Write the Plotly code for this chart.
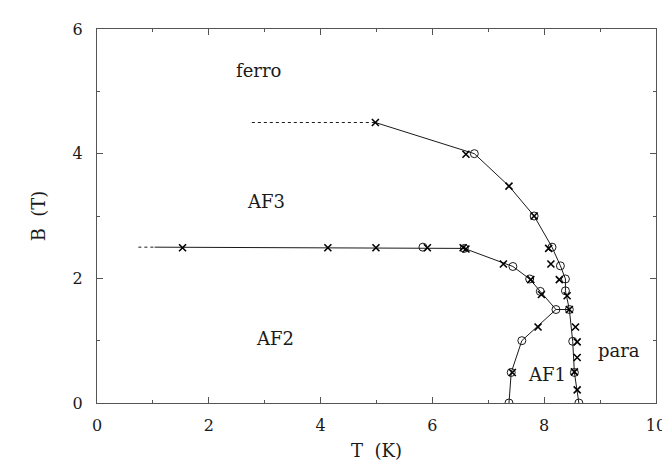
import plotly.graph_objects as go

# ---- data (T in K, B in T) ----
# phase boundary lines
lineA_T = [4.98, 6.75, 7.37, 7.82, 8.14, 8.29, 8.38, 8.38, 8.45, 8.51, 8.54, 8.62]
lineA_B = [4.50, 4.00, 3.48, 3.00, 2.50, 2.20, 1.99, 1.80, 1.50, 0.99, 0.49, 0.00]
lineA_ext_T = [2.77, 4.98]
lineA_ext_B = [4.50, 4.50]
lineB_T = [1.03, 6.57, 7.44, 7.74, 7.93, 8.21, 8.45]
lineB_B = [2.50, 2.48, 2.19, 1.99, 1.79, 1.50, 1.50]
lineB_ext_T = [0.74, 1.03]
lineB_ext_B = [2.50, 2.50]
lineC_T = [8.21, 7.60, 7.41, 7.37]
lineC_B = [1.50, 1.00, 0.49, 0.00]

# measured points
cross_T = [4.98, 6.60, 7.37, 7.82, 8.08, 8.12, 8.27, 8.41, 8.45, 8.56, 8.59, 8.59, 8.54, 8.59,
           1.53, 4.13, 4.99, 5.91, 6.55, 6.60, 7.27, 7.76, 7.95,
           7.89, 7.43]
cross_B = [4.50, 3.99, 3.48, 3.00, 2.48, 2.23, 1.98, 1.72, 1.50, 1.22, 0.98, 0.73, 0.50, 0.21,
           2.49, 2.49, 2.49, 2.49, 2.49, 2.47, 2.23, 1.98, 1.74,
           1.22, 0.49]
circle_T = [6.75, 7.82, 8.14, 8.29, 8.38, 8.38, 8.45, 8.51, 8.54, 8.62,
            5.83, 6.57, 7.44, 7.74, 7.93, 8.21, 7.60, 7.41, 7.37]
circle_B = [4.00, 3.00, 2.50, 2.20, 1.99, 1.80, 1.50, 0.99, 0.49, 0.00,
            2.50, 2.48, 2.19, 1.99, 1.79, 1.50, 1.00, 0.49, 0.00]

# region labels
label_text = ["ferro", "AF3", "AF2", "AF1", "para"]
label_T = [2.89, 3.02, 3.19, 8.05, 9.33]
label_B = [5.33, 3.24, 1.03, 0.45, 0.84]

FONT = "DejaVu Serif"
INK = "#1a1a1a"
AX = "#555555"

fig = go.Figure()

line_style = dict(color=INK, width=1)
fig.add_trace(go.Scatter(x=lineA_T, y=lineA_B, mode="lines", line=line_style, showlegend=False))
fig.add_trace(go.Scatter(x=lineA_ext_T, y=lineA_ext_B, mode="lines",
                         line=dict(color=INK, width=1, dash="3px,3px"), showlegend=False))
fig.add_trace(go.Scatter(x=lineB_T, y=lineB_B, mode="lines", line=line_style, showlegend=False))
fig.add_trace(go.Scatter(x=lineB_ext_T, y=lineB_ext_B, mode="lines",
                         line=dict(color=INK, width=1, dash="3px,3px"), showlegend=False))
fig.add_trace(go.Scatter(x=lineC_T, y=lineC_B, mode="lines", line=line_style, showlegend=False))

fig.add_trace(go.Scatter(x=circle_T, y=circle_B, mode="markers", showlegend=False,
                         marker=dict(symbol="circle-open", size=8, color=INK,
                                     line=dict(width=1, color=INK))))
fig.add_trace(go.Scatter(x=cross_T, y=cross_B, mode="markers", showlegend=False,
                         marker=dict(symbol="x-thin-open", size=7, color="black",
                                     line=dict(width=1.6, color="black"))))

for t, x, y in zip(label_text, label_T, label_B):
    fig.add_annotation(x=x, y=y, text=t, showarrow=False,
                       font=dict(family=FONT, size=18, color=INK))

axis_common = dict(
    showline=True, linecolor=AX, linewidth=1, mirror="ticks",
    ticks="inside", ticklen=6, tickwidth=1, tickcolor=AX,
    showgrid=False, zeroline=False,
    tickfont=dict(family=FONT, size=16, color=INK),
    minor=dict(ticks="inside", ticklen=3, dtick=1, tickcolor=AX, showgrid=False),
)

fig.update_xaxes(range=[0, 10], dtick=2, tick0=0, ticklabelstandoff=8,
                 title=dict(text="T  (K)", font=dict(family=FONT, size=18, color=INK), standoff=10),
                 **axis_common)
fig.update_yaxes(range=[0, 6], dtick=2, tick0=0, ticklabelstandoff=10,
                 title=dict(text="B  (T)", font=dict(family=FONT, size=18, color=INK), standoff=22),
                 **axis_common)

fig.update_layout(width=670, height=462,
                  margin=dict(l=89, r=22, t=16, b=67),
                  plot_bgcolor="white", paper_bgcolor="white")

fig.write_html("out.html")
